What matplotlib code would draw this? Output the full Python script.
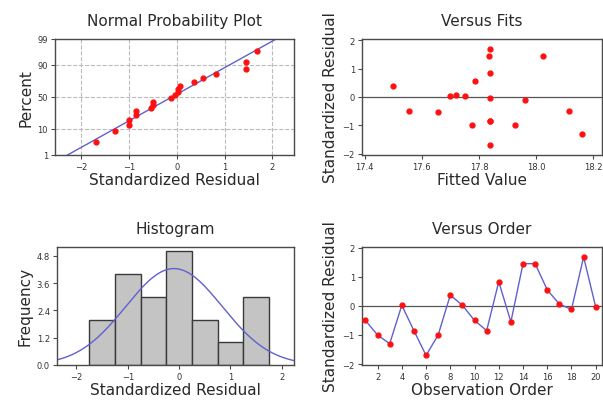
from statistics import NormalDist

import matplotlib
matplotlib.use("Agg")
import matplotlib.pyplot as plt
import numpy as np

plt.rcParams.update({
    "font.family": "DejaVu Sans",
    "axes.edgecolor": "#4a4a4a",
    "axes.linewidth": 1.0,
    "xtick.color": "#4a4a4a",
    "ytick.color": "#4a4a4a",
    "xtick.labelcolor": "#333333",
    "ytick.labelcolor": "#333333",
    "xtick.labelsize": 6,
    "ytick.labelsize": 6,
    "xtick.major.size": 3,
    "ytick.major.size": 3,
    "xtick.major.pad": 2,
    "ytick.major.pad": 2,
})

# Residuals in observation order and their fitted values
order = np.arange(1, 21)
resid = np.array([-0.50, -1.00, -1.30, 0.02, -0.85, -1.70, -1.00, 0.37, 0.02, -0.50,
                  -0.85, 0.83, -0.55, 1.45, 1.45, 0.55, 0.06, -0.12, 1.68, -0.04])
fitted = np.array([17.555, 17.775, 18.16, 17.70, 17.84, 17.84, 17.925, 17.50, 17.75, 18.115,
                   17.84, 17.84, 17.655, 17.835, 18.025, 17.785, 17.72, 17.96, 17.84, 17.84])

hist_edges = [-1.75, -1.25, -0.75, -0.25, 0.25, 0.75, 1.25, 1.75]
prob_ticks = [1, 10, 50, 90, 99]
fit_ticks = [17.4, 17.6, 17.8, 18.0, 18.2]

RED = "#ff1010"
BLUE = "#6060d0"
TXT = "#2a2a2a"
TITLE_FS = 11
LABEL_FS = 11

nd = NormalDist()
mu, sd = resid.mean(), resid.std(ddof=1)


def deco(ax, title, xlabel, ylabel):
    ax.set_title(title, fontsize=TITLE_FS, color=TXT, pad=10)
    ax.set_xlabel(xlabel, fontsize=LABEL_FS, color=TXT, labelpad=1)
    ax.set_ylabel(ylabel, fontsize=LABEL_FS, color=TXT, labelpad=3)


fig = plt.figure(figsize=(6.03, 4.02), dpi=100)

# ---- Normal probability plot ----
ax = fig.add_axes([0.0912, 0.612, 0.396, 0.289])
srt = np.sort(resid)
n = len(srt)
pos = [(i + 1 - 0.3) / (n + 0.4) for i in range(n)]
z = np.array([nd.inv_cdf(p) for p in pos])
ax.plot(srt, z, "o", color=RED, markersize=3.5, zorder=3)
xl = np.array([-2.55, 2.45])
ax.plot(xl, (xl - mu) / sd, color=BLUE, linewidth=1.0, zorder=2)
ax.set_xlim(-2.55, 2.45)
ax.set_ylim(nd.inv_cdf(0.01), nd.inv_cdf(0.99))
ax.set_yticks([nd.inv_cdf(p / 100) for p in prob_ticks])
ax.set_yticklabels([str(p) for p in prob_ticks])
ax.set_xticks([-2, -1, 0, 1, 2])
ax.grid(True, linestyle="--", color="#bbbbbb", linewidth=0.8)
deco(ax, "Normal Probability Plot", "Standardized Residual", "Percent")

# ---- Versus fits ----
ax = fig.add_axes([0.600, 0.612, 0.398, 0.289])
ax.axhline(0, color="#555555", linewidth=0.9, zorder=1)
ax.plot(fitted, resid, "o", color=RED, markersize=3.5, zorder=3)
ax.set_xlim(17.39, 18.23)
ax.set_ylim(-2.05, 2.05)
ax.set_xticks(fit_ticks)
ax.set_xticklabels([f"{v:.1f}" for v in fit_ticks])
ax.set_yticks([-2, -1, 0, 1, 2])
deco(ax, "Versus Fits", "Fitted Value", "Standardized Residual")

# ---- Histogram ----
ax = fig.add_axes([0.0945, 0.0896, 0.393, 0.294])
ax.hist(resid, bins=hist_edges, color="#c4c4c4", edgecolor="#3a3a3a", linewidth=1.0)
xs = np.linspace(-2.4, 2.3, 200)
bw = hist_edges[1] - hist_edges[0]
ax.plot(xs, [n * bw * NormalDist(mu, sd).pdf(v) for v in xs], color=BLUE, linewidth=1.0)
ax.set_xlim(-2.38, 2.24)
ax.set_ylim(0, 5.2)
ax.set_yticks([0, 1.2, 2.4, 3.6, 4.8])
ax.set_yticklabels(["0.0", "1.2", "2.4", "3.6", "4.8"])
ax.set_xticks([-2, -1, 0, 1, 2])
deco(ax, "Histogram", "Standardized Residual", "Frequency")

# ---- Versus order ----
ax = fig.add_axes([0.600, 0.0896, 0.398, 0.294])
ax.axhline(0, color="#555555", linewidth=0.9, zorder=1)
ax.plot(order, resid, "-", color=BLUE, linewidth=1.0, zorder=2)
ax.plot(order, resid, "o", color=RED, markersize=3.5, zorder=3)
ax.set_xlim(0.7, 20.5)
ax.set_ylim(-2.03, 2.03)
ax.set_xticks(np.arange(2, 21, 2))
ax.set_yticks([-2, -1, 0, 1, 2])
deco(ax, "Versus Order", "Observation Order", "Standardized Residual")

fig.savefig("out.png", dpi=100)
